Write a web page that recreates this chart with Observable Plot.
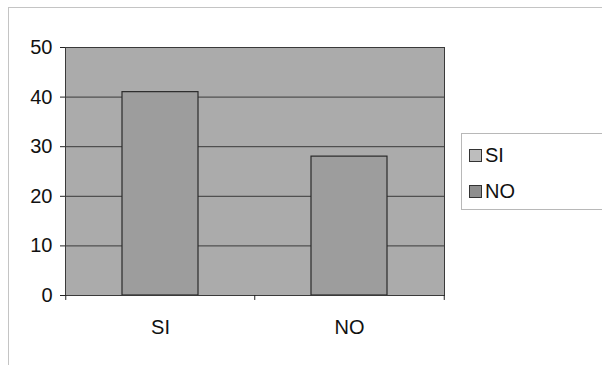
<!DOCTYPE html>
<html>
<head>
<meta charset="utf-8">
<script src="https://cdn.jsdelivr.net/npm/d3@7"></script>
<script src="https://cdn.jsdelivr.net/npm/@observablehq/plot@0.6"></script>
<style>
  body { margin: 0; background: #fff; font-family: "Liberation Sans", Arial, sans-serif; }
  #wrap { position: relative; width: 602px; height: 365px; overflow: hidden; }
  #chart { position: absolute; left: 0; top: 0; }
  #border { position: absolute; left: 8px; top: 7px; width: 620px; height: 380px;
            border-top: 1px solid #c4c4c4; border-left: 1px solid #c4c4c4; }
  #legend { position: absolute; left: 461px; top: 133px; width: 160px; height: 75px;
            border: 1px solid #b8b8b8; background: #fff; }
  .item { position: absolute; left: 7px; display: flex; align-items: center; font-size: 20px; color: #111; line-height: 22px; }
  .sw { width: 11px; height: 11px; border: 1px solid #333; margin-right: 3px; }
</style>
</head>
<body>
<div id="wrap">
  <div id="border"></div>
  <div id="chart"></div>
  <div id="legend"></div>
</div>
<script>
const categories = ["SI", "NO"];
const values = [41, 28];
const yTicks = [0, 10, 20, 30, 40, 50];
const gridValues = [10, 20, 30, 40];
const legendLabels = ["SI", "NO"];
const legendColors = ["#bdbdbd", "#8e8e8e"];

const data = categories.map((c, i) => ({cat: c, value: values[i]}));
const half = 379 / 4;

const plot = Plot.plot({
  width: 602,
  height: 365,
  marginLeft: 65,
  marginRight: 158,
  marginTop: 47,
  marginBottom: 70,
  style: {fontFamily: "Liberation Sans, Arial, sans-serif", fontSize: "20px", color: "#111", background: "transparent"},
  x: {domain: categories, paddingInner: 0.6, paddingOuter: 0.3, label: null},
  y: {domain: [0, 50], label: null},
  marks: [
    Plot.frame({fill: "#ababab", stroke: "none"}),
    Plot.ruleY(gridValues, {stroke: "#3a3a3a", strokeWidth: 1}),
    Plot.barY(data, {x: "cat", y: "value", fill: "#9d9d9d", stroke: "#2a2a2a", strokeWidth: 1.2}),
    Plot.frame({stroke: "#3a3a3a", strokeWidth: 1}),
    Plot.axisY({ticks: yTicks, tickSize: 5, tickPadding: 8, fontSize: 20, stroke: "#222"}),
    Plot.axisX({tickSize: 0, tickPadding: 24, fontSize: 20}),
    Plot.ruleX(categories, {x: d => d, dx: -half, y1: 0, y2: -1, stroke: "#222"}),
    Plot.ruleX([categories[categories.length - 1]], {x: d => d, dx: half, y1: 0, y2: -1, stroke: "#222"})
  ]
});
document.getElementById("chart").appendChild(plot);

const legend = document.getElementById("legend");
legendLabels.forEach((l, i) => {
  const it = document.createElement("div");
  it.className = "item";
  it.style.top = (10 + i * 36) + "px";
  const sw = document.createElement("div");
  sw.className = "sw";
  sw.style.background = legendColors[i];
  const t = document.createElement("span");
  t.textContent = l;
  it.appendChild(sw);
  it.appendChild(t);
  legend.appendChild(it);
});
</script>
</body>
</html>
